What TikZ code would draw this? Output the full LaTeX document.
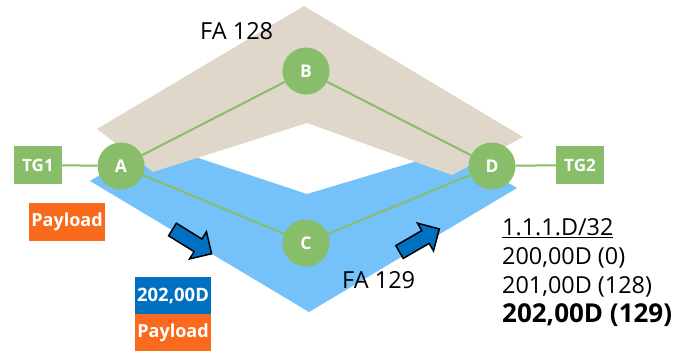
\documentclass[tikz,border=0pt]{standalone}
\usepackage{fontspec}
\setmainfont{Open Sans}
\definecolor{beige}{HTML}{E0D7CB}
\definecolor{lblue}{HTML}{75C2FA}
\definecolor{ngreen}{HTML}{88BD69}
\definecolor{porange}{HTML}{F96A1D}
\definecolor{dblue}{HTML}{0070C0}
\tikzset{
  router/.style={circle, fill=ngreen, minimum size=47pt, inner sep=0pt, text=white, font=\fontsize{17.5}{20}\selectfont\bfseries},
  tgbox/.style={rectangle, fill=ngreen, minimum width=48pt, minimum height=38pt, inner sep=0pt, text=white, font=\fontsize{17}{20}\selectfont\bfseries},
  pbox/.style={rectangle, fill=porange, minimum width=76pt, minimum height=38pt, inner sep=0pt, text=white, font=\fontsize{18}{20}\selectfont\bfseries},
  lbox/.style={rectangle, fill=dblue, minimum width=76pt, minimum height=37pt, inner sep=0pt, text=white, font=\fontsize{18.5}{20}\selectfont\bfseries},
  link/.style={draw=ngreen, line width=2pt},
  faLabel/.style={anchor=base west, inner sep=0pt, font=\fontsize{23.5}{28}\selectfont},
  tblline/.style={anchor=base west, inner sep=0pt, font=\fontsize{23.4}{28}\selectfont},
  flowarrow/.style={fill=dblue, draw=black, line width=1.5pt, line join=miter}
}
\begin{document}
\begin{tikzpicture}[x=1pt, y=-1pt]
\useasboundingbox (0,0) rectangle (688,351);
% blue region (FA 129)
\fill[lblue] (90,181) -- (309,312) -- (517,188) -- (454,150) -- (307,194) -- (153,143) -- cycle;
% beige region (FA 128)
\fill[beige] (304,6) -- (523,137) -- (452,175) -- (307,123) -- (153,172) -- (97,129) -- cycle;
% arrows
\begin{scope}[shift={(172.5,229.5)}, rotate=-31.8]
  \draw[flowarrow] (0,-7.4) -- (30,-7.4) -- (30,-16) -- (46,0) -- (30,16) -- (30,7.4) -- (0,7.4) -- cycle;
\end{scope}
\begin{scope}[shift={(399.5,252)}, rotate=30]
  \draw[flowarrow] (0,-7.4) -- (30,-7.4) -- (30,-16) -- (46,0) -- (30,16) -- (30,7.4) -- (0,7.4) -- cycle;
\end{scope}
% nodes
\node[router] (A) at (121,166) {A};
\node[router] (B) at (306,71) {B};
\node[router] (C) at (306,243) {C};
\node[router] (D) at (492,166) {D};
\node[tgbox] (TG1) at (38,165) {TG1};
\node[tgbox] (TG2) at (580,165) {TG2};
% links
\draw[link] (TG1) -- (A);
\draw[link] (D) -- (TG2);
\draw[link] (A) -- (B);
\draw[link] (B) -- (D);
\draw[link] (A) -- (C);
\draw[link] (C) -- (D);
% packets
\node[pbox] (P1) at (67,221.5) {Payload};
\node[lbox] (L2) at (173,295.5) {202,00D};
\node[pbox, minimum height=37pt] (P2) at (173,332.5) {Payload};
% labels
\node[faLabel] (FA128) at (200,39) {FA 128};
\node[faLabel] (FA129) at (342,288) {FA 129};
\node[tblline] (T0) at (502,235) {\underline{1.1.1.D/32}};
\node[tblline] (T1) at (502,264) {200,00D (0)};
\node[tblline] (T2) at (502,293) {201,00D (128)};
\node[tblline, font=\fontsize{26}{30}\selectfont\bfseries] (T3) at (502,322.5) {202,00D (129)};
\end{tikzpicture}
\end{document}
